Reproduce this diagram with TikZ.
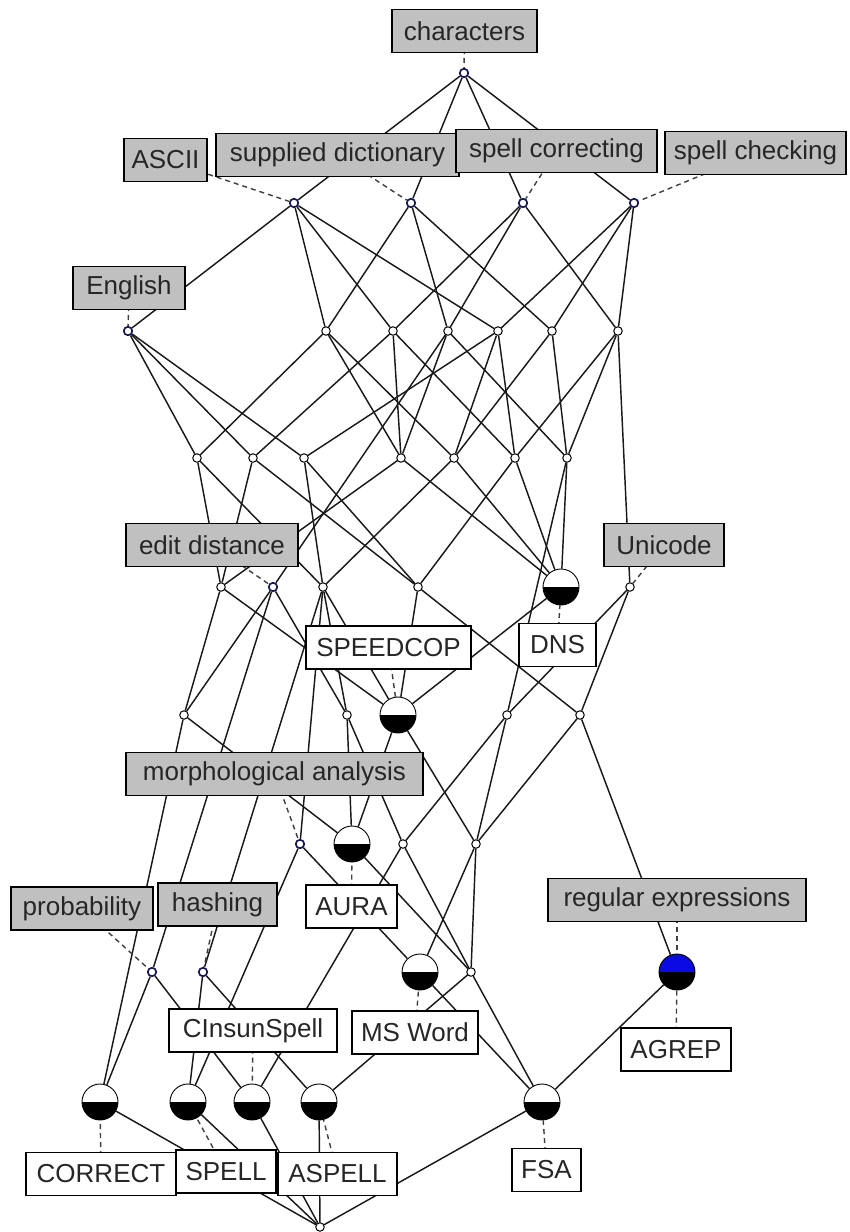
\documentclass[tikz,border=0pt]{standalone}
\usepackage{fontspec}
\setmainfont{Liberation Sans}
\pgfdeclarelayer{back}
\pgfdeclarelayer{bg}
\pgfsetlayers{back,bg,main}
\begin{document}
\begin{tikzpicture}[x=1pt,y=-1pt,
  sn/.style={circle, draw=black, fill=white, line width=1pt, inner sep=0pt, minimum size=8.5pt},
  an/.style={sn, draw={rgb,255:red,25;green,25;blue,90}, line width=1.7pt},
  on/.style={circle, draw=black, line width=0.9pt, fill=white, inner sep=0pt, minimum size=36pt,
    path picture={\fill[black] (path picture bounding box.west) rectangle (path picture bounding box.south east);}},
  bn/.style={on, fill={rgb,255:red,10;green,10;blue,225}},
  attr/.style={draw=black, line width=1.1pt, fill={rgb,255:red,192;green,192;blue,192}, minimum height=43pt,
    inner sep=0pt, font=\fontsize{26}{30}\selectfont, text=black!85},
  objl/.style={attr, fill=white},
  edge/.style={line width=1.45pt, draw=black!90},
  lab/.style={line width=1.4pt, draw=black!75, dash pattern=on 5pt off 4pt}]
\begin{pgfonlayer}{back}
\fill[white] (0,0) rectangle (850,1232);
\end{pgfonlayer}
\useasboundingbox (0,0) rectangle (850,1232);
% concept nodes
\node[an] (T) at (464,73) {};
\node[an] (L1a) at (294,203) {};
\node[an] (L1b) at (411,203) {};
\node[an] (L1c) at (523,203) {};
\node[an] (L1d) at (634,203) {};
\node[an] (E) at (128,331) {};
\node[sn] (P1) at (326,331) {};
\node[sn] (P2) at (393,331) {};
\node[sn] (P3) at (448,331) {};
\node[sn] (P4) at (498,331) {};
\node[sn] (P5) at (552,331) {};
\node[sn] (P6) at (618,331) {};
\node[sn] (Q1) at (197,458) {};
\node[sn] (Q2) at (253,458) {};
\node[sn] (Q3) at (304,458) {};
\node[sn] (Q4) at (401,458) {};
\node[sn] (Q5) at (454,458) {};
\node[sn] (Q6) at (515,458) {};
\node[sn] (Q7) at (567,458) {};
\node[sn] (R1) at (221,587) {};
\node[an] (R2) at (273,587) {};
\node[sn] (R3) at (323,587) {};
\node[sn] (R4) at (418,587) {};
\node[on] (DNS) at (561,587) {};
\node[sn] (UNI) at (630,587) {};
\node[sn] (S1) at (184,715) {};
\node[sn] (S2) at (347,715) {};
\node[on] (SPD) at (398,715) {};
\node[sn] (S4) at (507,715) {};
\node[sn] (S5) at (580,715) {};
\node[an] (M) at (300,844) {};
\node[on] (AURA) at (352,844) {};
\node[sn] (V3) at (403,844) {};
\node[sn] (V4) at (476,844) {};
\node[an] (PR) at (152,972) {};
\node[an] (HA) at (203,972) {};
\node[on] (MSW) at (420,972) {};
\node[sn] (W4) at (471,972) {};
\node[bn] (AG) at (677,972) {};
\node[on] (CO) at (100,1102) {};
\node[on] (SP) at (188,1102) {};
\node[on] (CI) at (252,1102) {};
\node[on] (AS) at (319,1102) {};
\node[on] (FSA) at (542,1102) {};
\node[sn] (BOT) at (320,1227) {};
% labels
\node[attr, minimum width=145pt] (lchar) at (464.5,31) {characters};
\node[attr, minimum width=83pt] (lascii) at (165.5,160) {ASCII};
\node[attr, minimum width=243pt] (lsup) at (337.5,155) {supplied dictionary};
\node[attr, minimum width=201pt] (lcorr) at (556.5,151) {spell correcting};
\node[attr, minimum width=181pt] (lcheck) at (755.5,153) {spell checking};
\node[attr, minimum width=112pt] (leng) at (129,288) {English};
\node[attr, minimum width=172pt] (ledit) at (212,545) {edit distance};
\node[attr, minimum width=120pt] (luni) at (664,545) {Unicode};
\node[objl, minimum width=165pt] (lspd) at (388.5,647.5) {SPEEDCOP};
\node[objl, minimum width=77pt] (ldns) at (557.5,645) {DNS};
\node[attr, minimum width=297pt] (lmorph) at (274.5,774) {morphological analysis};
\node[attr, minimum width=142pt] (lprob) at (82,908.5) {probability};
\node[attr, minimum width=119pt] (lhash) at (217.5,904.5) {hashing};
\node[objl, minimum width=91pt] (laura) at (351.5,906.5) {AURA};
\node[attr, minimum width=258pt] (lregex) at (677,900) {regular expressions};
\node[objl, minimum width=168pt] (lci) at (253,1030.5) {CInsunSpell};
\node[objl, minimum width=126pt] (lmsw) at (415,1032.5) {MS Word};
\node[objl, minimum width=110pt] (lagrep) at (676,1049.5) {AGREP};
\node[objl, minimum width=150pt] (lco) at (101,1174) {CORRECT};
\node[objl, minimum width=100pt] (lsp) at (226,1171.5) {SPELL};
\node[objl, minimum width=119pt] (las) at (337.5,1174) {ASPELL};
\node[objl, minimum width=69pt] (lfsa) at (546.5,1170) {FSA};
\begin{pgfonlayer}{bg}
% lattice edges
\foreach \a/\b in {T/L1a,T/L1b,T/L1c,T/L1d,
  L1a/E,L1a/P1,L1a/P2,L1a/P4,
  L1b/P1,L1b/P3,L1b/P5,
  L1c/P2,L1c/P3,L1c/P6,
  L1d/P4,L1d/P5,L1d/P6,
  E/Q1,E/Q2,E/Q3,
  P1/Q1,P1/Q4,P1/Q5,
  P2/Q2,P2/Q4,P2/Q6,
  P3/Q4,P3/Q7,P3/R2,
  P4/Q3,P4/Q5,P4/Q6,
  P5/Q5,P5/Q7,
  P6/Q6,P6/Q7,P6/UNI,
  Q1/R1,Q1/R3,Q2/R1,Q2/R4,Q3/R3,Q3/R4,
  Q4/R1,Q4/DNS,Q5/R3,Q5/DNS,Q6/R4,Q6/DNS,Q7/DNS,Q7/S4,
  R1/S1,R1/SPD,R2/S1,R2/PR,R2/S2,
  R3/SPD,R3/M,R3/HA,R3/S2,R4/SPD,R4/S5,
  DNS/SPD,UNI/S4,UNI/S5,
  S1/CO,S1/AURA,S2/AURA,S2/V3,SPD/AURA,SPD/V4,
  S4/V3,S4/V4,S5/V4,S5/AG,
  M/SP,M/MSW,AURA/W4,V3/CI,V3/W4,V4/MSW,V4/W4,
  PR/CO,PR/CI,HA/SP,HA/AS,MSW/FSA,W4/FSA,W4/AS,AG/FSA,
  CO/BOT,SP/BOT,CI/BOT,AS/BOT,FSA/BOT}
  \draw[edge] (\a) -- (\b);
% label connectors
\foreach \a/\b in {lchar/T,lascii/L1a,lsup/L1b,lcorr/L1c,lcheck/L1d,leng/E,
  ledit/R2,luni/UNI,lspd/SPD,ldns/DNS,lmorph/M,lprob/PR,lhash/HA,laura/AURA,
  lregex/AG,lci/CI,lmsw/MSW,lagrep/AG,lco/CO,lsp/SP,las/AS,lfsa/FSA}
  \draw[lab] (\a.center) -- (\b);
\end{pgfonlayer}
\end{tikzpicture}
\end{document}
